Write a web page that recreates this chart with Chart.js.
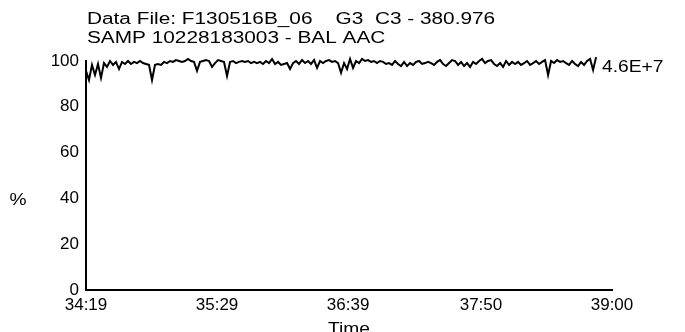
<!DOCTYPE html>
<html><head><meta charset="utf-8">
<script src="https://cdn.jsdelivr.net/npm/chart.js@4"></script>
<style>html,body{margin:0;padding:0;background:#fff}#wrap{width:685px;height:332px}</style>
</head><body><div id="wrap"><canvas id="c" width="685" height="332"></canvas></div>
<script>
const titleLines = ['Data File: F130516B_06    G3  C3 - 380.976', 'SAMP 10228183003 - BAL AAC'];
const yTickValues = [0, 20, 40, 60, 80, 100];
const xTickSeconds = [2059, 2129, 2199, 2270, 2340];
const xTickLabels = ['34:19', '35:29', '36:39', '37:50', '39:00'];
const startSeconds = 2059;
const endSeconds = 2331.5;
const endLabel = '4.6E+7';
const yTitle = '%';
const xTitle = 'Time';
const percentValues = [
95.7,91.7,98.3,93.9,98.7,92.6,99.1,97.4,100.0,98.3,99.6,96.5,99.6,98.7,100.0,98.7,99.6,99.1,100.0,99.1,
98.7,98.3,91.7,98.3,98.7,98.3,99.6,99.1,100.0,99.6,100.4,100.0,99.6,100.0,100.9,100.0,99.6,95.7,99.6,100.0,
100.4,100.0,97.4,99.1,100.4,100.0,99.6,93.5,99.6,100.0,99.1,99.6,100.0,99.6,100.0,99.1,99.6,99.1,99.6,98.7,
100.0,99.1,100.9,98.7,99.6,98.3,98.7,99.1,96.5,99.1,100.0,98.7,100.4,99.1,100.0,98.7,100.4,97.0,100.0,99.1,
100.0,100.4,99.6,100.0,99.1,94.8,99.1,96.5,100.9,97.0,100.0,99.1,100.9,100.0,100.4,99.6,100.0,99.1,100.0,99.6,
98.7,99.1,98.3,100.0,98.7,97.8,99.6,97.8,99.1,98.3,99.6,100.0,98.7,99.1,99.6,99.1,98.3,99.6,100.4,98.7,
97.8,99.1,100.4,100.0,98.3,99.6,97.8,99.1,97.4,99.6,98.7,100.0,100.9,99.1,100.0,100.4,98.7,97.8,99.1,97.4,
100.0,98.3,99.6,98.7,99.6,98.3,99.1,100.0,98.3,99.1,100.0,98.7,99.6,100.4,93.9,100.0,99.1,100.4,99.6,100.0,
99.1,98.3,100.0,98.7,97.8,99.6,98.3,100.0,100.9,96.1,101.7
];

const step = (endSeconds - startSeconds) / (percentValues.length - 1);
const points = percentValues.map((v, i) => ({x: startSeconds + i * step, y: v}));

const FONT = "'Liberation Sans', Arial, sans-serif";
function stretchedText(ctx, txt, x, y, size, sx, align) {
  ctx.save();
  ctx.font = size + 'px ' + FONT;
  ctx.fillStyle = '#000';
  ctx.textBaseline = 'alphabetic';
  ctx.translate(x, y);
  ctx.scale(sx, 1);
  let w = ctx.measureText(txt).width;
  let dx = align === 'center' ? -w / 2 : 0;
  ctx.fillText(txt, dx, 0);
  ctx.restore();
}

const textPlugin = {
  id: 'texts',
  afterDraw(chart) {
    const ctx = chart.ctx;
    const a = chart.chartArea;
    stretchedText(ctx, titleLines[0], a.left + 1, 24, 16, 1.3, 'left');
    stretchedText(ctx, titleLines[1], a.left + 1, 43, 16, 1.3, 'left');
    const xs = chart.scales.x, ys = chart.scales.y;
    const lastX = xs.getPixelForValue(endSeconds);
    stretchedText(ctx, endLabel, lastX + 6, ys.getPixelForValue(97.5) + 5, 16, 1.2, 'left');
    stretchedText(ctx, yTitle, 18, ys.getPixelForValue(40) + 7, 16, 1.2, 'center');
    stretchedText(ctx, xTitle, (a.left + a.right) / 2, 334, 16, 1.2, 'center');
  }
};

new Chart(document.getElementById('c'), {
  type: 'line',
  data: { datasets: [{ data: points, borderColor: '#000', borderWidth: 2, pointRadius: 0, tension: 0, fill: false, clip: false }] },
  options: {
    responsive: false, animation: false, devicePixelRatio: 1,
    layout: { padding: { top: 61, right: 73, left: 0, bottom: 0 } },
    plugins: { legend: { display: false }, tooltip: { enabled: false } },
    scales: {
      x: {
        type: 'linear', min: xTickSeconds[0], max: xTickSeconds[xTickSeconds.length - 1],
        afterBuildTicks: s => { s.ticks = xTickSeconds.map(v => ({ value: v })); },
        afterFit: s => { s.height = 42; },
        grid: { display: false, drawTicks: false },
        border: { display: true, color: '#000', width: 2 },
        ticks: { color: '#000', font: { family: FONT, size: 17 }, padding: 5, maxRotation: 0, autoSkip: false,
          callback: (v) => { const i = xTickSeconds.indexOf(v); return i >= 0 ? xTickLabels[i] : ''; } }
      },
      y: {
        min: 0, max: 100,
        afterBuildTicks: s => { s.ticks = yTickValues.map(v => ({ value: v })); },
        afterFit: s => { s.width = 86; },
        grid: { display: false, drawTicks: false },
        border: { display: true, color: '#000', width: 2 },
        ticks: { color: '#000', font: { family: FONT, size: 17 }, padding: 7 }
      }
    }
  },
  plugins: [textPlugin]
});
</script></body></html>
